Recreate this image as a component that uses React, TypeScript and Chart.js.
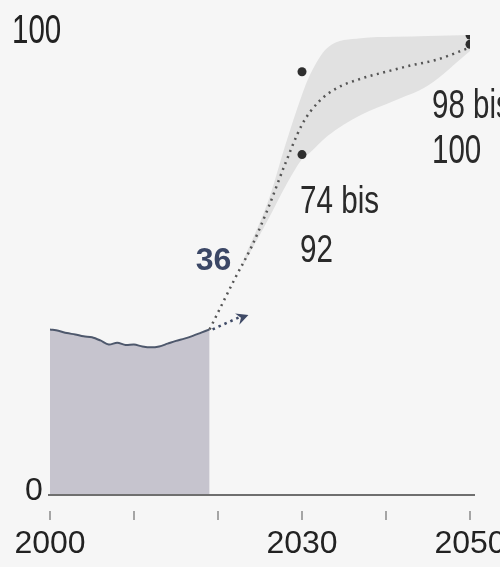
import React, { useEffect, useRef } from "react";
import { Chart, registerables } from "chart.js";

Chart.register(...registerables);

// Historical share (area), 2000-2019
const historyYears = [2000, 2001, 2002, 2003, 2004, 2005, 2006, 2007, 2008, 2009, 2010, 2011, 2012, 2013, 2014, 2015, 2016, 2017, 2018, 2019];
const historyValues = [36.0, 35.7, 35.2, 34.9, 34.5, 34.3, 33.6, 32.7, 33.1, 32.6, 32.7, 32.3, 32.1, 32.3, 32.9, 33.5, 34.0, 34.6, 35.3, 36.0];

// Projection (dotted line)
const projYears = [2019, 2022, 2024, 2026, 2028, 2030, 2032, 2034, 2037, 2040, 2043, 2046, 2050];
const projValues = [36, 47, 54, 62.5, 72, 80.5, 85.5, 88.3, 90.5, 92, 93.4, 94.6, 97.3];

// Uncertainty band
const bandYears = [2023, 2026, 2028, 2030, 2031, 2033, 2037, 2041, 2045, 2050];
const bandUpper = [51, 64, 76, 87, 91.5, 97.2, 99.3, 99.6, 99.8, 100];
const bandLower = [50, 60, 67, 73, 74.5, 78, 82.6, 85.7, 89, 96.5];

// Target range points
const targetYears = [2030, 2030, 2050, 2050];
const targetValues = [74, 92, 98, 100];

// Labels
const xTickValues = [2000, 2010, 2020, 2030, 2040, 2050];
const xTickLabels = ["2000", "", "", "2030", "", "2050"];
const yTickValues = [0, 100];
const yTickLabels = ["0", "100"];
const currentYear = 2019;
const currentValue = 36;
const currentLabel = "36";
const arrowTipYear = 2023.4;
const arrowTipValue = 39;
const range2030 = ["74 bis", "92"];
const range2050 = ["98 bis", "100"];

const REGULAR = '"Liberation Sans", Arial, sans-serif';

const pts = (xs: number[], ys: number[]) => xs.map((x, i) => ({ x, y: ys[i] }));

function narrowText(ctx: any, text: string, x: number, y: number, size: number, sx: number) {
  ctx.save();
  ctx.translate(x, y);
  ctx.scale(sx, 1);
  ctx.font = `${size}px ${REGULAR}`;
  ctx.fillText(text, 0, 0);
  ctx.restore();
}

const decor = {
  id: "decor",
  beforeDraw(chart: any) {
    const { ctx, width, height } = chart;
    ctx.save();
    ctx.fillStyle = "#f6f6f6";
    ctx.fillRect(0, 0, width, height);
    ctx.restore();
  },
  afterDatasetsDraw(chart: any) {
    const { ctx } = chart;
    const xs = chart.scales.x;
    const ys = chart.scales.y;
    const y0 = ys.getPixelForValue(0);
    ctx.save();
    // baseline axis
    ctx.strokeStyle = "#6f6f6f";
    ctx.lineWidth = 2;
    ctx.beginPath();
    ctx.moveTo(xs.getPixelForValue(2000) - 2, y0);
    ctx.lineTo(xs.getPixelForValue(2050) + 5, y0);
    ctx.stroke();
    // ticks
    ctx.strokeStyle = "#8a8a8a";
    ctx.lineWidth = 1.5;
    xTickValues.forEach((v) => {
      const px = xs.getPixelForValue(v);
      ctx.beginPath();
      ctx.moveTo(px, y0 + 16);
      ctx.lineTo(px, y0 + 25);
      ctx.stroke();
    });
    // x labels
    ctx.fillStyle = "#222";
    ctx.font = `32px ${REGULAR}`;
    ctx.textAlign = "center";
    ctx.textBaseline = "alphabetic";
    xTickValues.forEach((v, i) => {
      if (!xTickLabels[i]) return;
      ctx.fillText(xTickLabels[i], xs.getPixelForValue(v), y0 + 58);
    });
    // y labels
    ctx.textAlign = "left";
    ctx.textBaseline = "alphabetic";
    ctx.font = `32px ${REGULAR}`;
    ctx.fillText(yTickLabels[0], 25, ys.getPixelForValue(yTickValues[0]) + 5);
    narrowText(ctx, yTickLabels[1], 12, ys.getPixelForValue(yTickValues[1]) + 8, 41, 0.72);

    // arrow from current value
    const ax = xs.getPixelForValue(currentYear);
    const ay = ys.getPixelForValue(currentValue);
    const tx = xs.getPixelForValue(arrowTipYear);
    const ty = ys.getPixelForValue(arrowTipValue);
    ctx.strokeStyle = "#3f4a66";
    ctx.lineWidth = 2.5;
    ctx.setLineDash([2.5, 4]);
    ctx.beginPath();
    ctx.moveTo(ax + 3, ay);
    ctx.lineTo(tx - 6, ty + 1);
    ctx.stroke();
    ctx.setLineDash([]);
    const ang = Math.atan2(ty - ay, tx - ax);
    ctx.fillStyle = "#3f4a66";
    ctx.beginPath();
    ctx.moveTo(tx + 2 * Math.cos(ang), ty + 2 * Math.sin(ang));
    ctx.lineTo(tx - 10 * Math.cos(ang) + 6 * Math.sin(ang), ty - 10 * Math.sin(ang) - 6 * Math.cos(ang));
    ctx.lineTo(tx - 6 * Math.cos(ang), ty - 6 * Math.sin(ang));
    ctx.lineTo(tx - 10 * Math.cos(ang) - 6 * Math.sin(ang), ty - 10 * Math.sin(ang) + 6 * Math.cos(ang));
    ctx.closePath();
    ctx.fill();

    // "36" label
    ctx.fillStyle = "#3b4766";
    ctx.font = `bold 32px ${REGULAR}`;
    ctx.textAlign = "center";
    ctx.textBaseline = "middle";
    ctx.fillText(currentLabel, ax + 4, ay - 68);

    // range labels
    ctx.fillStyle = "#2a2a2a";
    ctx.textAlign = "left";
    ctx.textBaseline = "alphabetic";
    const p30x = xs.getPixelForValue(2030);
    const p30y = ys.getPixelForValue(74);
    narrowText(ctx, range2030[0], p30x - 2, p30y + 58, 39, 0.76);
    narrowText(ctx, range2030[1], p30x - 2, p30y + 107, 39, 0.76);
    const p50x = xs.getPixelForValue(2050);
    const p50y = ys.getPixelForValue(98);
    narrowText(ctx, range2050[0], p50x - 38, p50y + 74, 41, 0.72);
    narrowText(ctx, range2050[1], p50x - 38, p50y + 119, 41, 0.72);
    ctx.restore();
  },
};

export default function App() {
  const ref = useRef<HTMLCanvasElement | null>(null);
  useEffect(() => {
    if (!ref.current) return;
    const chart = new Chart(ref.current, {
      type: "line",
      data: {
        datasets: [
          {
            data: pts(bandYears, bandUpper),
            borderWidth: 0,
            pointRadius: 0,
            backgroundColor: "#e1e1e1",
            fill: "+1",
            cubicInterpolationMode: "monotone",
            order: 5,
          },
          {
            data: pts(bandYears, bandLower),
            borderWidth: 0,
            pointRadius: 0,
            backgroundColor: "#e1e1e1",
            fill: false,
            cubicInterpolationMode: "monotone",
            order: 5,
          },
          {
            data: pts(historyYears, historyValues),
            borderColor: "#4e586c",
            borderWidth: 2,
            backgroundColor: "#c6c4ce",
            fill: "origin",
            pointRadius: 0,
            tension: 0.3,
            order: 4,
          },
          {
            data: pts(projYears, projValues),
            borderColor: "#555",
            borderWidth: 2.5,
            borderDash: [2, 4.5],
            fill: false,
            pointRadius: 0,
            cubicInterpolationMode: "monotone",
            order: 2,
          },
          {
            data: pts(targetYears, targetValues),
            showLine: false,
            pointRadius: 4.5,
            pointBackgroundColor: "#2e2e2e",
            pointBorderWidth: 0,
            order: 1,
          },
        ],
      },
      options: {
        responsive: false,
        animation: false,
        events: [],
        layout: { padding: { left: 50, right: 30, top: 35, bottom: 72 } },
        plugins: { legend: { display: false }, tooltip: { enabled: false } },
        scales: {
          x: { type: "linear", min: 2000, max: 2050, display: false },
          y: { type: "linear", min: 0, max: 100, display: false },
        },
      },
      plugins: [decor],
    });
    return () => chart.destroy();
  }, []);
  return (
    <div style={{ position: "fixed", left: 0, top: 0, width: 500, height: 567 }}>
      <canvas ref={ref} width={500} height={567} style={{ display: "block", width: 500, height: 567 }} />
    </div>
  );
}
